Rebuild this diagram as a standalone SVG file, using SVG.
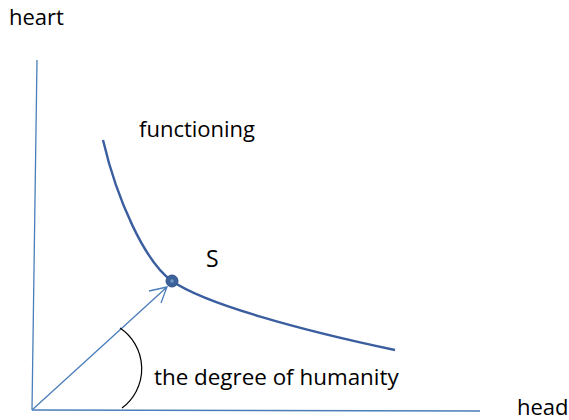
<svg xmlns="http://www.w3.org/2000/svg" width="569" height="420" viewBox="0 0 569 420">
<style>
.t{font-family:"Open Sans","Liberation Sans",sans-serif;font-size:22px;fill:#000}
.ax{stroke:#4a7ebb;stroke-width:1.3;fill:none}
.cv{stroke:#3a5e9f;stroke-width:2.4;fill:none}
</style>
<rect width="569" height="420" fill="#fff"/>
<g id="connectors">
<path class="ax" d="M37,60 L32,410"/>
<path class="ax" d="M32,410 L480,411"/>
<path class="ax" d="M32,410 L167,287 M149,291 L167,287 L161,303"/>
<path d="M120,328 A49,49 0 0 1 122,408" fill="none" stroke="#000" stroke-width="1.2"/>
</g>
<g id="curve">
<path class="cv" d="M103,140 C117,200 145,262 172,281 C205,304 300,330 395,350"/>
</g>
<g id="S">
<circle cx="172" cy="281" r="6" fill="#3c6399" stroke="#2f5288" stroke-width="1"/>
<circle cx="172" cy="281" r="1.8" fill="#6f95c9"/>
<text class="t" x="206" y="267" style="font-size:23px">S</text>
</g>
<g id="labels">
<text class="t" x="9" y="25">heart</text>
<text class="t" x="139" y="137">functioning</text>
<text class="t" x="154" y="385" style="font-size:22.4px">the degree of humanity</text>
<text class="t" x="517" y="415">head</text>
</g>
</svg>
